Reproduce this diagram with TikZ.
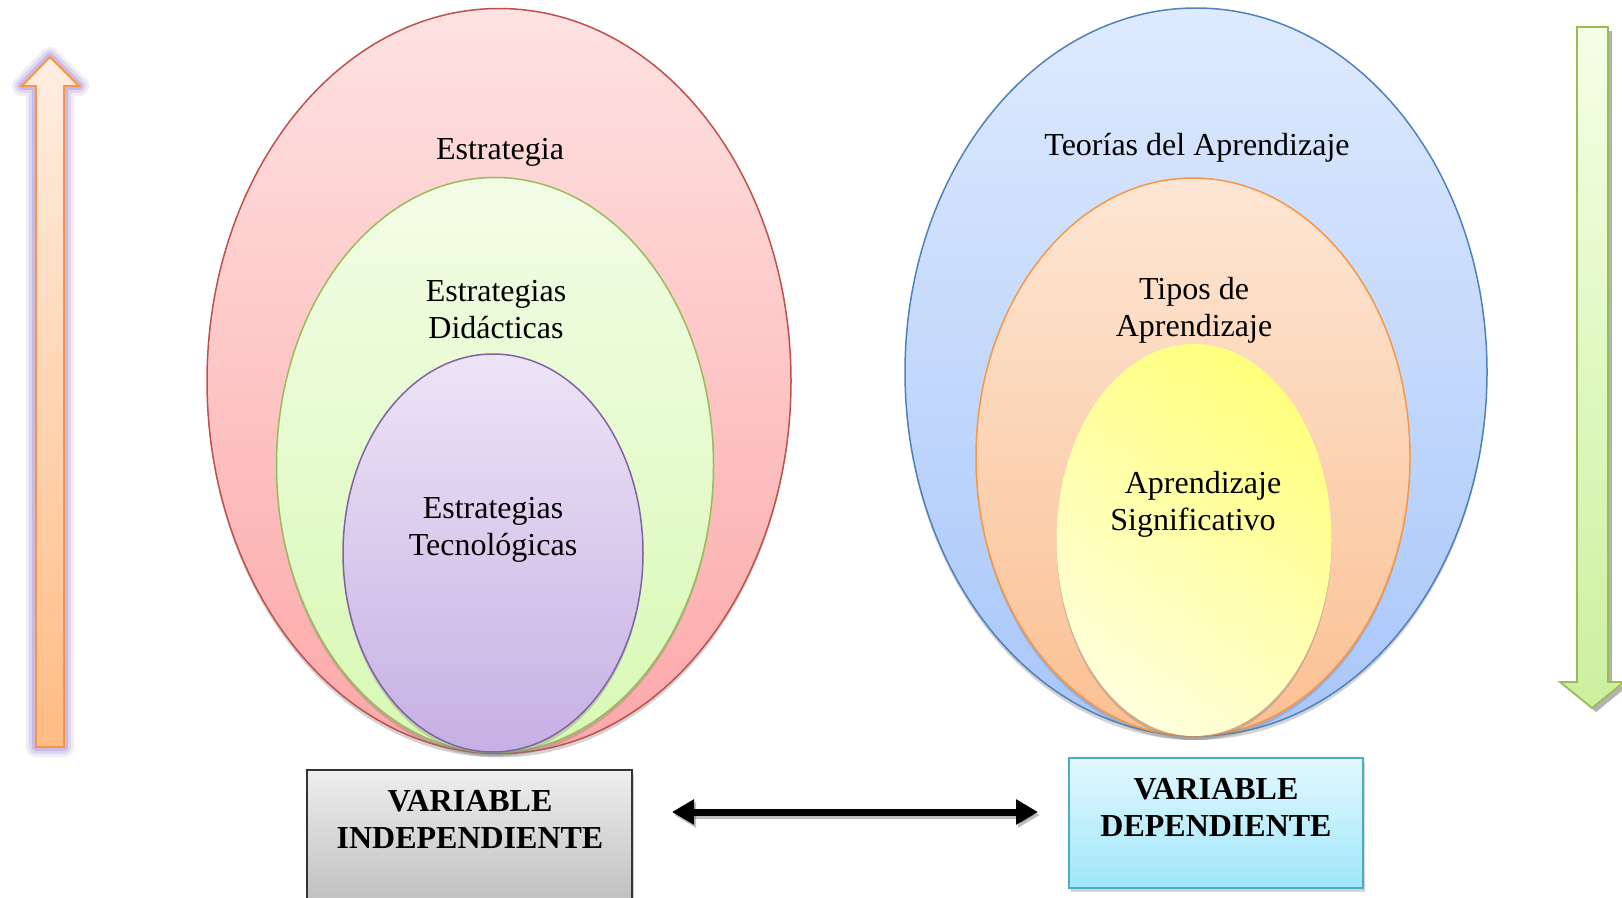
\documentclass[tikz,border=0pt]{standalone}
\usepackage{fontspec}
\setmainfont{Liberation Serif}
\usetikzlibrary{shapes.geometric,shadows,arrows.meta}
\definecolor{redB}{RGB}{192,80,77}
\definecolor{redT}{RGB}{254,226,226}
\definecolor{redBot}{RGB}{253,168,168}
\definecolor{grnB}{RGB}{155,187,89}
\definecolor{grnT}{RGB}{242,253,230}
\definecolor{grnBot}{RGB}{216,248,180}
\definecolor{purB}{RGB}{128,100,162}
\definecolor{purT}{RGB}{237,228,246}
\definecolor{purBot}{RGB}{198,176,228}
\definecolor{bluB}{RGB}{79,129,189}
\definecolor{bluT}{RGB}{222,234,254}
\definecolor{bluBot}{RGB}{168,198,250}
\definecolor{orgB}{RGB}{247,150,70}
\definecolor{orgT}{RGB}{253,230,212}
\definecolor{orgBot}{RGB}{251,192,146}
\definecolor{yelT}{RGB}{255,255,125}
\definecolor{yelBot}{RGB}{255,255,218}
\definecolor{arrOT}{RGB}{255,238,226}
\definecolor{arrOB}{RGB}{255,188,132}
\definecolor{glow}{RGB}{140,110,195}
\definecolor{arrGT}{RGB}{244,255,230}
\definecolor{arrGB}{RGB}{204,240,158}
\definecolor{gryT}{RGB}{238,238,238}
\definecolor{gryB}{RGB}{192,192,192}
\definecolor{cyT}{RGB}{226,248,255}
\definecolor{cyB}{RGB}{160,230,250}
\definecolor{cyD}{RGB}{75,172,198}
\begin{document}
\begin{tikzpicture}[x=1pt,y=-1pt,
  ell/.style={ellipse,inner sep=0pt,line width=1.5pt,
    drop shadow={shadow xshift=0pt,shadow yshift=-4pt,opacity=0.35}},
  lbl/.style={align=center,font=\fontsize{32}{37}\selectfont,inner sep=0pt},
  vbox/.style={rectangle,inner sep=0pt,line width=1.5pt,
    drop shadow={shadow xshift=2pt,shadow yshift=-4pt,opacity=0.35}},
  vtext/.style={align=center,font=\fontsize{32}{37}\selectfont\bfseries,inner sep=0pt},
]
\useasboundingbox (0,0) rectangle (1622,897);

% left up arrow with glow
\foreach \w/\o in {20/0.12,14/0.18,8/0.28}{
  \draw[glow,line width=\w pt,opacity=\o,line join=round]
    (36,747) -- (36,86) -- (22,86) -- (50,57) -- (79,86) -- (64,86) -- (64,747) -- cycle;
}
\path[draw=orgB,line width=1.8pt,top color=arrOT,bottom color=arrOB]
  (36,747) -- (36,86) -- (22,86) -- (50,57) -- (79,86) -- (64,86) -- (64,747) -- cycle;

% right down arrow
\fill[black,opacity=0.3]
  (1581,31) -- (1612,31) -- (1612,686) -- (1628,686) -- (1596,712) -- (1564,686) -- (1581,686) -- cycle;
\path[draw=grnB,line width=1.8pt,top color=arrGT,bottom color=arrGB]
  (1577,27) -- (1608,27) -- (1608,682) -- (1624,682) -- (1592,708) -- (1560,682) -- (1577,682) -- cycle;

% left ellipses
\node[ell,draw=redB,top color=redT,bottom color=redBot,minimum width=584,minimum height=745] (estr) at (499,381) {};
\node[ell,draw=grnB,top color=grnT,bottom color=grnBot,minimum width=437,minimum height=575] (did) at (495,465) {};
\node[ell,draw=purB,top color=purT,bottom color=purBot,minimum width=300,minimum height=398] (tec) at (493,553) {};

\node[lbl] (testr) at (500,152) {Estrategia};
\node[lbl] (tdid) at (496,310) {Estrategias\\Didácticas};
\node[lbl] (ttec) at (493,530) {Estrategias\\Tecnológicas};

% right ellipses
\node[ell,draw=bluB,top color=bluT,bottom color=bluBot,minimum width=582,minimum height=728] (teo) at (1196,372) {};
\node[ell,draw=orgB,top color=orgT,bottom color=orgBot,minimum width=434,minimum height=558] (tip) at (1193,457) {};
\node[ell,draw=none,top color=yelT,bottom color=yelBot,shading angle=-35,minimum width=275,minimum height=392] (sig) at (1194,540) {};

\node[lbl] (tteo) at (1197,148) {Teorías del Aprendizaje};
\node[lbl] (ttip) at (1194,310) {Tipos de\\Aprendizaje};
\node[lbl] (tsig) at (1193,504) {\hspace{20pt}Aprendizaje\\Significativo};

% boxes
\node[vbox,draw=black!80,top color=gryT,bottom color=gryB,minimum width=325,minimum height=132] (vi) at (469.5,836) {};
\node[vtext] (tvi) at (470,819) {VARIABLE\\INDEPENDIENTE};
\node[vbox,draw=cyD,top color=cyT,bottom color=cyB,minimum width=294,minimum height=130] (vd) at (1216,823) {};
\node[vtext] (tvd) at (1216,807) {VARIABLE\\DEPENDIENTE};

% double arrow
\coordinate (aL) at (672,812);
\coordinate (aR) at (1038,812);
\draw[black,opacity=0.25,line width=7pt,{Triangle[length=22pt,width=24pt]}-{Triangle[length=22pt,width=24pt]}]
  ([xshift=2pt,yshift=-3pt]aL) -- ([xshift=2pt,yshift=-3pt]aR);
\draw[black,line width=7pt,{Triangle[length=22pt,width=24pt]}-{Triangle[length=22pt,width=24pt]}] (aL) -- (aR);
\end{tikzpicture}
\end{document}
